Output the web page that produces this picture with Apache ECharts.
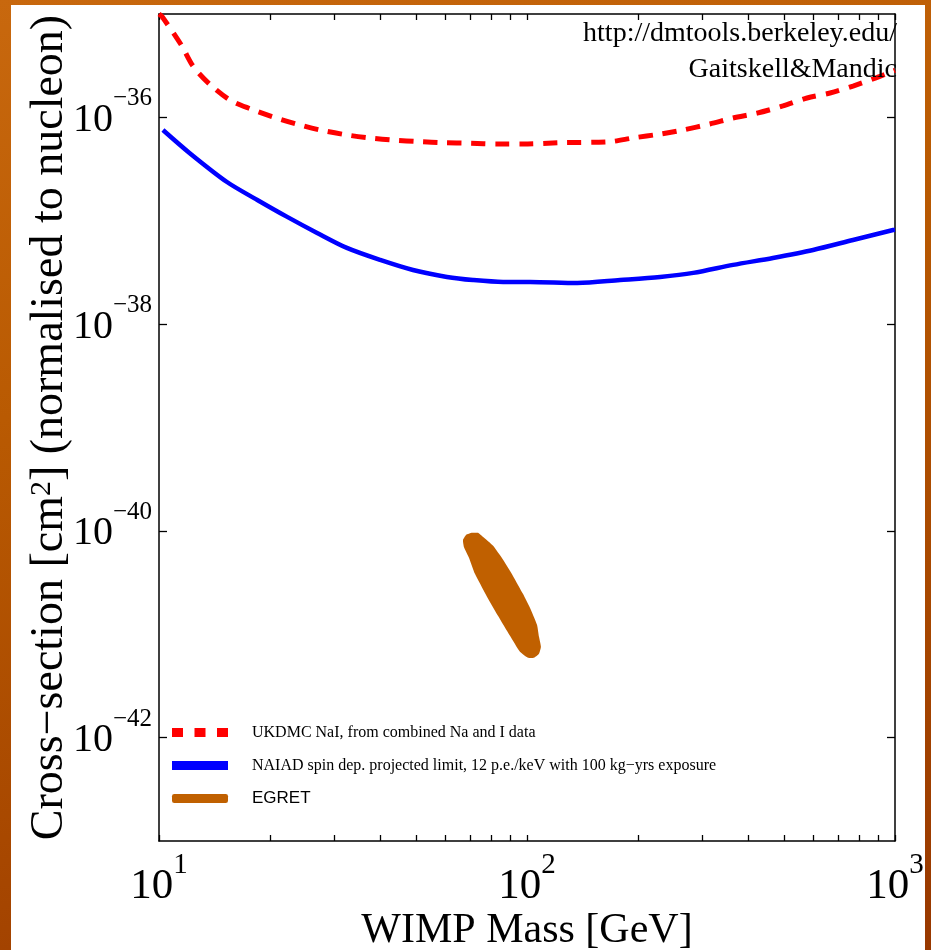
<!DOCTYPE html>
<html>
<head>
<meta charset="utf-8">
<script src="https://cdn.jsdelivr.net/npm/echarts@6.0.0/dist/echarts.min.js"></script>
<style>
  html, body { margin: 0; padding: 0; }
  body {
    width: 931px; height: 950px; overflow: hidden;
    background: linear-gradient(165deg, #c8680e 0%, #b95a02 35%, #a84800 70%, #983800 100%);
  }
  #chart { width: 931px; height: 950px; }
</style>
</head>
<body>
<div id="chart"></div>
<script>
// UKDMC NaI limit (red dashed)
const ukdmcMass = [10, 10.2, 11.5, 12.4, 13.8, 15.6, 17.7, 20.4, 23.7, 27.4, 32.4, 37.5, 43.2, 51.2, 59.1, 70.0,
  82.9, 97.5, 125, 168, 194, 230, 265, 314, 363, 422, 496, 577, 666, 769, 871, 988, 1000];
const ukdmcSigma = [1.0e-35, 9.4e-36, 5.0e-36, 3.1e-36, 2.06e-36, 1.47e-36, 1.21e-36, 1.01e-36, 8.6e-37, 7.55e-37,
  6.76e-37, 6.32e-37, 6.04e-37, 5.82e-37, 5.69e-37, 5.62e-37, 5.53e-37, 5.53e-37, 5.69e-37, 5.82e-37, 6.32e-37,
  6.9e-37, 7.55e-37, 8.63e-37, 9.86e-37, 1.10e-36, 1.29e-36, 1.54e-36, 1.72e-36, 2.01e-36, 2.35e-36, 2.8e-36, 2.85e-36];

// NAIAD projected limit (blue)
const naiadMass = [10.25, 12.1, 15.3, 18.5, 22.3, 26.9, 32.4, 39.9, 49.0, 60.6, 71.3, 86.1, 102, 137, 179, 230,
  283, 363, 466, 599, 769, 988, 1000];
const naiadSigma = [7.55e-37, 4.53e-37, 2.37e-37, 1.59e-37, 1.09e-37, 7.62e-38, 5.46e-38, 4.18e-38, 3.34e-38,
  2.86e-38, 2.67e-38, 2.56e-38, 2.56e-38, 2.50e-38, 2.67e-38, 2.86e-38, 3.13e-38, 3.74e-38, 4.37e-38, 5.22e-38,
  6.52e-38, 8.14e-38, 8.2e-38];

// EGRET region outline
const egretMass = [75.9, 80.9, 86.1, 91.6, 97.5, 102.5, 106.5, 107.8, 109.1, 107.8, 104.5, 100.6,
  95.7, 89.9, 83.4, 77.4, 72.2, 69.6, 67.4, 67.0, 68.3, 70.9, 73.6];
const egretSigma = [8.75e-41, 7.16e-41, 5.25e-41, 3.67e-41, 2.46e-41, 1.72e-41, 1.23e-41, 9.44e-42, 7.55e-42,
  6.46e-42, 5.92e-42, 5.92e-42, 6.76e-42, 9.66e-42, 1.51e-41, 2.40e-41, 3.84e-41, 5.48e-41, 7.0e-41, 8.18e-41,
  9.14e-41, 9.57e-41, 9.57e-41];

// axis ticks / labels (y in powers of ten)
const xTickValues = [10, 20, 30, 40, 50, 60, 70, 80, 90, 100, 200, 300, 400, 500, 600, 700, 800, 900, 1000];
const xLabelValues = [10, 100, 1000];
const yLabelExps = [-42, -40, -38, -36];

const seriesNames = [
  'UKDMC NaI, from combined Na and I data',
  'NAIAD spin dep. projected limit, 12 p.e./keV with 100 kg\u2212yrs exposure',
  'EGRET'
];

const serif = '"Liberation Serif", "Times New Roman", serif';

// the y axis is drawn in log10(sigma): the tiny values break the log-axis tick rounding
function zipLog(mass, sigma) {
  return mass.map(function (m, i) { return [m, Math.log10(sigma[i])]; });
}

function expLabel(e) {
  let s = e < 0 ? '\u2212' + (-e) : String(e);
  return '{b|10}{s|' + s + '}';
}

// "10" sits on the bottom of the line, the exponent on its top
function powRich(big, small, lh) {
  return {
    b: { fontFamily: serif, fontSize: big, lineHeight: lh, verticalAlign: 'bottom', color: '#000' },
    s: { fontFamily: serif, fontSize: small, lineHeight: small, verticalAlign: 'top', color: '#000' }
  };
}

const frameLine = { show: true, lineStyle: { color: '#000', width: 1.5 } };
const tickLine = { color: '#000', width: 1.3 };

let option = {
  animation: false,
  backgroundColor: 'transparent',
  graphic: [
    { type: 'rect', z: -10, silent: true, shape: { x: 11, y: 5, width: 914, height: 945 }, style: { fill: '#fff' } },
    { type: 'text', x: 897, y: 20, z: 10, style: { text: 'http://dmtools.berkeley.edu/', fill: '#000',
      font: '28px ' + serif, align: 'right', verticalAlign: 'top' } },
    { type: 'text', x: 897, y: 56, z: 10, style: { text: 'Gaitskell&Mandic', fill: '#000',
      font: '28px ' + serif, align: 'right', verticalAlign: 'top' } }
  ],
  grid: { left: 159, top: 14, width: 736, height: 827, containLabel: false, outerBoundsMode: 'none' },
  legend: {
    orient: 'vertical',
    left: 167,
    top: 718,
    itemWidth: 56,
    itemHeight: 9,
    itemGap: 14,
    textStyle: { fontFamily: serif, fontSize: 16, lineHeight: 19, color: '#000', padding: [0, 0, 0, 19] },
    data: [
      { name: seriesNames[0], icon: 'path://M0 0H11V9H0Z M22.5 0H33.5V9H22.5Z M45 0H56V9H45Z' },
      { name: seriesNames[1], icon: 'rect' },
      { name: seriesNames[2], icon: 'roundRect',
        textStyle: { fontFamily: '"Liberation Sans", Arial, sans-serif', fontSize: 17 } }
    ]
  },
  xAxis: [
    {
      type: 'log', logBase: 10, min: 10, max: 1000, position: 'bottom',
      name: 'WIMP Mass [GeV]', nameLocation: 'middle', nameGap: 69, nameMoveOverlap: false,
      nameTextStyle: { fontFamily: serif, fontSize: 42, color: '#000' },
      axisLine: frameLine,
      axisTick: { inside: true, length: 6, customValues: xTickValues, lineStyle: tickLine },
      axisLabel: {
        customValues: xLabelValues, margin: 10, rich: powRich(43, 29, 57),
        formatter: function (v) { return expLabel(Math.round(Math.log10(v))); }
      },
      splitLine: { show: false }, minorTick: { show: false }
    },
    {
      type: 'log', logBase: 10, min: 10, max: 1000, position: 'top',
      axisLine: frameLine,
      axisTick: { inside: true, length: 6, customValues: xTickValues, lineStyle: tickLine },
      axisLabel: { show: false },
      splitLine: { show: false }
    }
  ],
  yAxis: [
    {
      type: 'value', min: -43, max: -35, interval: 1, position: 'left',
      name: 'Cross\u2212section [cm{sup|2}] (normalised to nucleon)', nameLocation: 'middle',
      nameGap: 86, nameMoveOverlap: false,
      nameTextStyle: {
        fontFamily: serif, fontSize: 46, color: '#000',
        rich: { sup: { fontFamily: serif, fontSize: 30, verticalAlign: 'top', lineHeight: 30, color: '#000' } }
      },
      axisLine: frameLine,
      axisTick: { inside: true, length: 8, customValues: yLabelExps, lineStyle: tickLine },
      axisLabel: {
        customValues: yLabelExps, margin: 7, padding: [0, 0, 8, 0],
        formatter: expLabel, rich: powRich(40, 25, 54)
      },
      splitLine: { show: false }
    },
    {
      type: 'value', min: -43, max: -35, interval: 1, position: 'right',
      axisLine: frameLine,
      axisTick: { inside: true, length: 8, customValues: yLabelExps, lineStyle: tickLine },
      axisLabel: { show: false },
      splitLine: { show: false }
    }
  ],
  series: [
    {
      name: seriesNames[0],
      type: 'line',
      data: zipLog(ukdmcMass, ukdmcSigma),
      symbol: 'none',
      smooth: 0.3,
      lineStyle: { color: '#ff0000', width: 5, type: [14, 10] },
      itemStyle: { color: '#ff0000' }
    },
    {
      name: seriesNames[1],
      type: 'line',
      data: zipLog(naiadMass, naiadSigma),
      symbol: 'none',
      smooth: 0.3,
      lineStyle: { color: '#0000ff', width: 4.5 },
      itemStyle: { color: '#0000ff' }
    },
    {
      name: seriesNames[2],
      type: 'custom',
      data: zipLog(egretMass, egretSigma),
      encode: { x: 0, y: 1 },
      itemStyle: { color: '#c06000' },
      renderItem: function (params, api) {
        if (params.dataIndex !== 0) return null;
        let pts = egretMass.map(function (m, i) { return api.coord([m, Math.log10(egretSigma[i])]); });
        return { type: 'polygon', shape: { points: pts, smooth: 0.15 }, style: { fill: '#c06000' } };
      }
    }
  ]
};

var myChart = echarts.init(document.getElementById('chart'));
myChart.setOption(option, true);
</script>
</body>
</html>
